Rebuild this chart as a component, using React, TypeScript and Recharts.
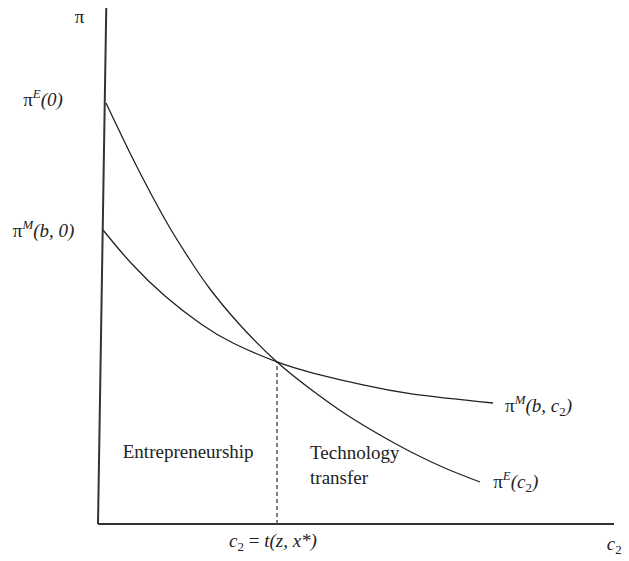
import React from "react";
import {
  ComposedChart,
  Line,
  XAxis,
  YAxis,
  ReferenceLine,
  ReferenceDot,
} from "recharts";

// schematic units: both axes run 0..100
const piM = [
  { x: 0.97, y: 56.98 },
  { x: 6.4, y: 50.58 },
  { x: 12.98, y: 44.19 },
  { x: 19.96, y: 38.76 },
  { x: 26.16, y: 35.08 },
  { x: 34.69, y: 31.4 },
  { x: 41.67, y: 29.26 },
  { x: 51.36, y: 26.94 },
  { x: 61.05, y: 25.19 },
  { x: 76.55, y: 23.45 },
];

const piE = [
  { x: 1.55, y: 81.59 },
  { x: 6.2, y: 71.9 },
  { x: 10.08, y: 64.34 },
  { x: 13.95, y: 57.36 },
  { x: 17.83, y: 51.16 },
  { x: 21.71, y: 45.54 },
  { x: 27.52, y: 38.57 },
  { x: 34.69, y: 31.4 },
  { x: 41.67, y: 25.78 },
  { x: 48.26, y: 21.12 },
  { x: 54.65, y: 17.25 },
  { x: 61.05, y: 13.76 },
  { x: 67.64, y: 10.66 },
  { x: 74.03, y: 8.14 },
];

const threshold = 34.69;
const crossY = 31.4;
const yAxisTopX = 1.6;

const FONT = "'Liberation Serif', 'Times New Roman', serif";
const INK = "#222";

type Part = { t: string; it?: boolean; sup?: boolean; sub?: boolean };

const tex = (parts: Part[], size = 19) => (props: any) => {
  const vb = props.viewBox || {};
  let shift = 0;
  return (
    <text x={vb.x} y={vb.y} fontFamily={FONT} fontSize={size} fill={INK}>
      {parts.map((p, i) => {
        const target = p.sup ? -8 : p.sub ? 4 : 0;
        const dy = target - shift;
        shift = target;
        return (
          <tspan
            key={i}
            dy={dy}
            fontStyle={p.it ? "italic" : "normal"}
            fontSize={p.sup || p.sub ? size * 0.68 : size}
          >
            {p.t}
          </tspan>
        );
      })}
    </text>
  );
};

const labels: { x: number; y: number; parts: Part[] }[] = [
  { x: -4.5, y: 97.1, parts: [{ t: "π" }] },
  { x: -14.5, y: 81.0, parts: [{ t: "π" }, { t: "E", it: true, sup: true }, { t: "(0)", it: true }] },
  { x: -16.5, y: 55.6, parts: [{ t: "π" }, { t: "M", it: true, sup: true }, { t: "(b, 0)", it: true }] },
  { x: 4.8, y: 12.8, parts: [{ t: "Entrepreneurship" }] },
  { x: 41.1, y: 12.6, parts: [{ t: "Technology" }] },
  { x: 41.1, y: 7.8, parts: [{ t: "transfer" }] },
  { x: 78.9, y: 21.7, parts: [{ t: "π" }, { t: "M", it: true, sup: true }, { t: "(b, c", it: true }, { t: "2", sub: true }, { t: ")", it: true }] },
  { x: 76.6, y: 7.0, parts: [{ t: "π" }, { t: "E", it: true, sup: true }, { t: "(c", it: true }, { t: "2", sub: true }, { t: ")", it: true }] },
  { x: 98.6, y: -5.0, parts: [{ t: "c", it: true }, { t: "2", sub: true }] },
  { x: 25.4, y: -4.5, parts: [{ t: "c", it: true }, { t: "2", sub: true }, { t: " = " }, { t: "t(z, x*)", it: true }] },
];

export default function App() {
  return (
    <div style={{ position: "absolute", left: 0, top: 0, background: "#fff" }}>
      <ComposedChart
        width={629}
        height={561}
        margin={{ top: 8, right: 15, bottom: 37, left: 98 }}
      >
        <XAxis type="number" dataKey="x" domain={[0, 100]} hide />
        <YAxis type="number" dataKey="y" domain={[0, 100]} hide />
        <ReferenceLine
          segment={[{ x: 0, y: 0 }, { x: 100, y: 0 }]}
          stroke="#333"
          strokeWidth={2}
        />
        <ReferenceLine
          segment={[{ x: 0, y: 0 }, { x: yAxisTopX, y: 100 }]}
          stroke="#333"
          strokeWidth={2}
        />
        <ReferenceLine
          segment={[{ x: threshold, y: 0 }, { x: threshold, y: crossY }]}
          stroke="#555"
          strokeWidth={1.5}
          strokeDasharray="4 3"
        />
        <Line
          data={piE}
          dataKey="y"
          type="natural"
          stroke={INK}
          strokeWidth={1.3}
          dot={false}
          isAnimationActive={false}
        />
        <Line
          data={piM}
          dataKey="y"
          type="natural"
          stroke={INK}
          strokeWidth={1.3}
          dot={false}
          isAnimationActive={false}
        />
        {labels.map((l, i) => (
          <ReferenceDot
            key={i}
            x={l.x}
            y={l.y}
            r={0}
            stroke="none"
            fill="none"
            ifOverflow="visible"
            label={{ content: tex(l.parts) }}
          />
        ))}
      </ComposedChart>
    </div>
  );
}
